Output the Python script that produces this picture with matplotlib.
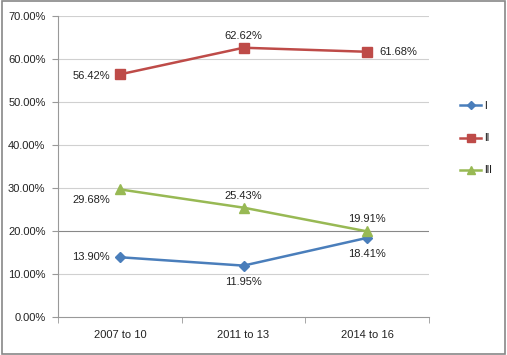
import matplotlib
matplotlib.use("Agg")
from matplotlib import pyplot as plt
import matplotlib.patches as mpatches

categories = ['2007 to 10', '2011 to 13', '2014 to 16']
series_names = ['I', 'II', 'III']
vals_I = [13.90, 11.95, 18.41]
vals_II = [56.42, 62.62, 61.68]
vals_III = [29.68, 25.43, 19.91]
yticks = [0, 10, 20, 30, 40, 50, 60, 70]

plt.rcParams['font.family'] = ['Liberation Sans', 'DejaVu Sans']

fig = plt.figure(figsize=(5.07, 3.55), dpi=100)
ax = fig.add_axes([58/507, 38/355, (429-58)/507, (317-16)/355])

x = [0.5, 1.5, 2.5]
colors = ['#4A7EBB', '#BE4B48', '#98B954']
markers = ['D', 's', '^']
msizes = [5, 7, 7]
data = [vals_I, vals_II, vals_III]

for vals, c, m, ms, name in zip(data, colors, markers, msizes, series_names):
    ax.plot(x, vals, color=c, marker=m, markersize=ms, lw=1.8, label=name,
            markeredgecolor=c, zorder=3)

# data labels
offsets = {
    0: [(-7, 0, 'right', 'center'), (0, -8, 'center', 'top'), (0, -8, 'center', 'top')],
    1: [(-7, -1, 'right', 'center'), (0, 5, 'center', 'bottom'), (9, 0, 'left', 'center')],
    2: [(-7, -8, 'right', 'center'), (0, 5, 'center', 'bottom'), (0, 5, 'center', 'bottom')],
}
for si, vals in enumerate(data):
    for i, v in enumerate(vals):
        dx, dy, ha, va = offsets[si][i]
        ax.annotate('%.2f%%' % v, (x[i], v), xytext=(dx, dy), textcoords='offset points',
                    ha=ha, va=va, fontsize=8, color='#222222')

ax.set_xlim(0, 3)
ax.set_ylim(0, 70)
ax.set_yticks(yticks)
ax.set_yticklabels(['%.2f%%' % t for t in yticks], fontsize=8, color='#222222')
ax.set_xticks(x)
ax.set_xticklabels(categories, fontsize=8, color='#222222')
ax.set_xticks([0, 1, 2, 3], minor=True)
ax.tick_params(axis='x', which='major', length=0, pad=9)
ax.tick_params(axis='x', which='minor', length=4, color='#999999')
ax.tick_params(axis='y', length=4, color='#999999', pad=5)

for t in yticks[1:]:
    ax.axhline(t, color='#D0D0D0' if t != 20 else '#888888', lw=0.8, zorder=1)

for side in ['top', 'right']:
    ax.spines[side].set_visible(False)
for side in ['left', 'bottom']:
    ax.spines[side].set_color('#999999')
    ax.spines[side].set_linewidth(0.8)

leg = ax.legend(loc='center left', bbox_to_anchor=(1.06, 0.595), frameon=False,
                fontsize=7, handlelength=2.2, labelspacing=2.3, handletextpad=0.3,
                markerscale=0.75)

# outer frame
fig.patches.append(mpatches.Rectangle((0.003, 0.004), 0.994, 0.992, transform=fig.transFigure,
                                      fill=False, edgecolor='#888888', lw=1.2))

fig.savefig('out.png', dpi=100)
